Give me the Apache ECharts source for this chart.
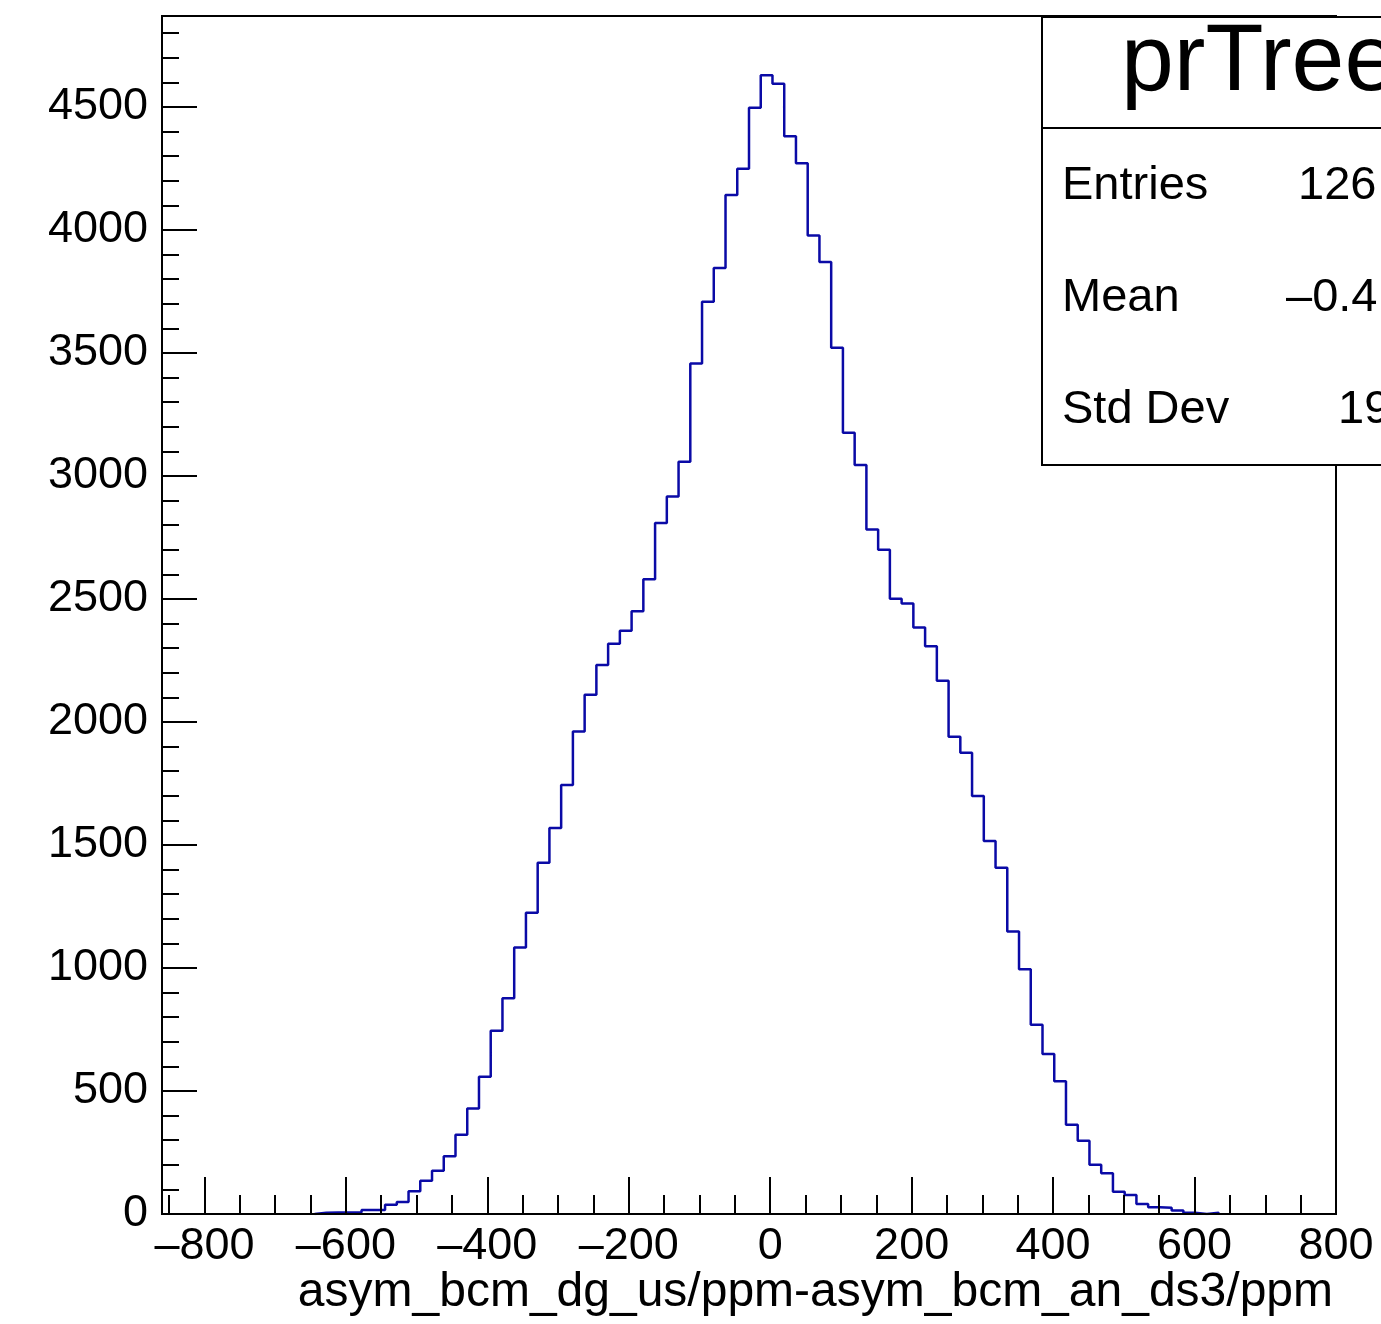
<!DOCTYPE html>
<html>
<head>
<meta charset="utf-8">
<script src="https://cdn.jsdelivr.net/npm/echarts@6/dist/echarts.min.js"></script>
<style>
html,body{margin:0;padding:0;background:#fff;}
#c{width:1381px;height:1324px;}
</style>
</head>
<body>
<div id="c"></div>
<script>
// Histogram definition (ROOT TH1: 100 bins from -860 to 800)
const xMin = -860;
const xMax = 800;
const nBins = 100;

// Bin contents
const counts = [
  0, 0, 0, 0, 0, 0, 0, 0, 0, 0,
  0, 0, 0, 5, 6, 6, 7, 16, 16, 38,
  49, 92, 135, 176, 235, 322, 429, 558, 745, 877,
  1083, 1225, 1428, 1569, 1744, 1961, 2111, 2232, 2318, 2371,
  2450, 2580, 2809, 2917, 3058, 3457, 3708, 3846, 4142, 4249,
  4497, 4629, 4595, 4381, 4271, 3978, 3870, 3521, 3176, 3045,
  2783, 2700, 2501, 2482, 2384, 2308, 2168, 1940, 1875, 1699,
  1516, 1408, 1148, 995, 769, 650, 540, 363, 298, 200,
  166, 90, 77, 41, 27, 25, 14, 5, 0, 5,
  0, 0, 0, 0, 0, 0, 0, 0, 0, 0
];

const xTickValues = [-800, -600, -400, -200, 0, 200, 400, 600, 800];
const yTickValues = [0, 500, 1000, 1500, 2000, 2500, 3000, 3500, 4000, 4500];
const yMax = 4870;

const xTitle = 'asym_bcm_dg_us/ppm-asym_bcm_an_ds3/ppm';
const statsTitle = 'prTree';
const statsLabels = ['Entries', 'Mean', 'Std Dev'];
const statsValues = ['126', '\u20130.4', '19'];

// minor tick positions
const xMinor = [];
for (let v = -850; v <= 800; v += 50) if (v % 200 !== 0) xMinor.push(v);
const yMinor = [];
for (let v = 100; v <= 4800; v += 100) if (v % 500 !== 0) yMinor.push(v);

// step outline through the bin edges (only over the filled range, as ROOT shows it)
const bw = (xMax - xMin) / nBins;
let first = counts.findIndex(c => c > 0);
let last = nBins - 1;
while (last > 0 && counts[last] === 0) last--;
const stepData = [[xMin + first * bw, 0]];
for (let i = first; i <= last; i++) stepData.push([xMin + i * bw, counts[i]]);
stepData.push([xMin + (last + 1) * bw, counts[last]]);
stepData.push([xMin + (last + 1) * bw, 0]);

const FONT = '"Liberation Sans", Arial, Helvetica, sans-serif';
const fmtX = v => (v < 0 ? '\u2013' + Math.abs(v) : String(v));

const chart = echarts.init(document.getElementById('c'), null, {renderer: 'canvas'});
const statRowsY = [186, 298, 410];
const statValX = [1298, 1286, 1338];

const graphics = [
  {type: 'rect', z: 100, shape: {x: 1042, y: 17, width: 420, height: 448},
   style: {fill: '#fff', stroke: '#000', lineWidth: 2}},
  {type: 'line', z: 101, shape: {x1: 1042, y1: 128, x2: 1400, y2: 128},
   style: {stroke: '#000', lineWidth: 2}},
  {type: 'text', z: 101, x: 1121, y: 64,
   style: {text: statsTitle, font: '95px ' + FONT, fill: '#000',
           align: 'left', verticalAlign: 'middle', textAlign: 'left', textVerticalAlign: 'middle'}},
  {type: 'text', z: 101, x: 1333, y: 1293,
   style: {text: xTitle, font: '48px ' + FONT, fill: '#000',
           align: 'right', verticalAlign: 'middle', textAlign: 'right', textVerticalAlign: 'middle'}}
];
statsLabels.forEach((s, i) => {
  graphics.push({type: 'text', z: 101, x: 1062, y: statRowsY[i],
    style: {text: s, font: '47px ' + FONT, fill: '#000',
            align: 'left', verticalAlign: 'middle', textAlign: 'left', textVerticalAlign: 'middle'}});
  graphics.push({type: 'text', z: 101, x: statValX[i], y: statRowsY[i],
    style: {text: statsValues[i], font: '47px ' + FONT, fill: '#000',
            align: 'left', verticalAlign: 'middle', textAlign: 'left', textVerticalAlign: 'middle'}});
});

chart.setOption({
  animation: false,
  backgroundColor: '#fff',
  grid: {left: 162, right: 45, top: 16, bottom: 110, show: true,
         borderColor: '#000', borderWidth: 2, backgroundColor: 'transparent',
         containLabel: false, outerBoundsMode: 'none'},
  xAxis: [
    {type: 'value', min: xMin, max: xMax, position: 'bottom', z: 10,
     axisLine: {show: true, onZero: false, lineStyle: {color: '#000', width: 2}},
     axisTick: {show: true, inside: true, length: 37, customValues: xTickValues,
                lineStyle: {color: '#000', width: 2}},
     axisLabel: {show: true, customValues: xTickValues, formatter: fmtX, margin: 10,
                 color: '#000', fontSize: 45, fontFamily: FONT},
     splitLine: {show: false}},
    {type: 'value', min: xMin, max: xMax, position: 'bottom', offset: 0, z: 10,
     axisLine: {show: false, onZero: false},
     axisTick: {show: true, inside: true, length: 19, customValues: xMinor,
                lineStyle: {color: '#000', width: 2}},
     axisLabel: {show: false},
     splitLine: {show: false}}
  ],
  yAxis: [
    {type: 'value', min: 0, max: yMax, position: 'left', z: 10,
     axisLine: {show: true, onZero: false, lineStyle: {color: '#000', width: 2}},
     axisTick: {show: true, inside: true, length: 35, customValues: yTickValues,
                lineStyle: {color: '#000', width: 2}},
     axisLabel: {show: true, customValues: yTickValues, formatter: v => String(v), margin: 14,
                 color: '#000', fontSize: 45, fontFamily: FONT},
     splitLine: {show: false}},
    {type: 'value', min: 0, max: yMax, position: 'left', offset: 0, z: 10,
     axisLine: {show: false, onZero: false},
     axisTick: {show: true, inside: true, length: 17, customValues: yMinor,
                lineStyle: {color: '#000', width: 2}},
     axisLabel: {show: false},
     splitLine: {show: false}}
  ],
  series: [{
    type: 'line',
    xAxisIndex: 0, yAxisIndex: 0,
    data: stepData,
    step: 'end',
    showSymbol: false,
    symbol: 'none',
    clip: true,
    z: 2,
    lineStyle: {color: '#0a0aa6', width: 2.5},
    emphasis: {disabled: true}
  }],
  graphic: graphics
});
</script>
</body>
</html>
